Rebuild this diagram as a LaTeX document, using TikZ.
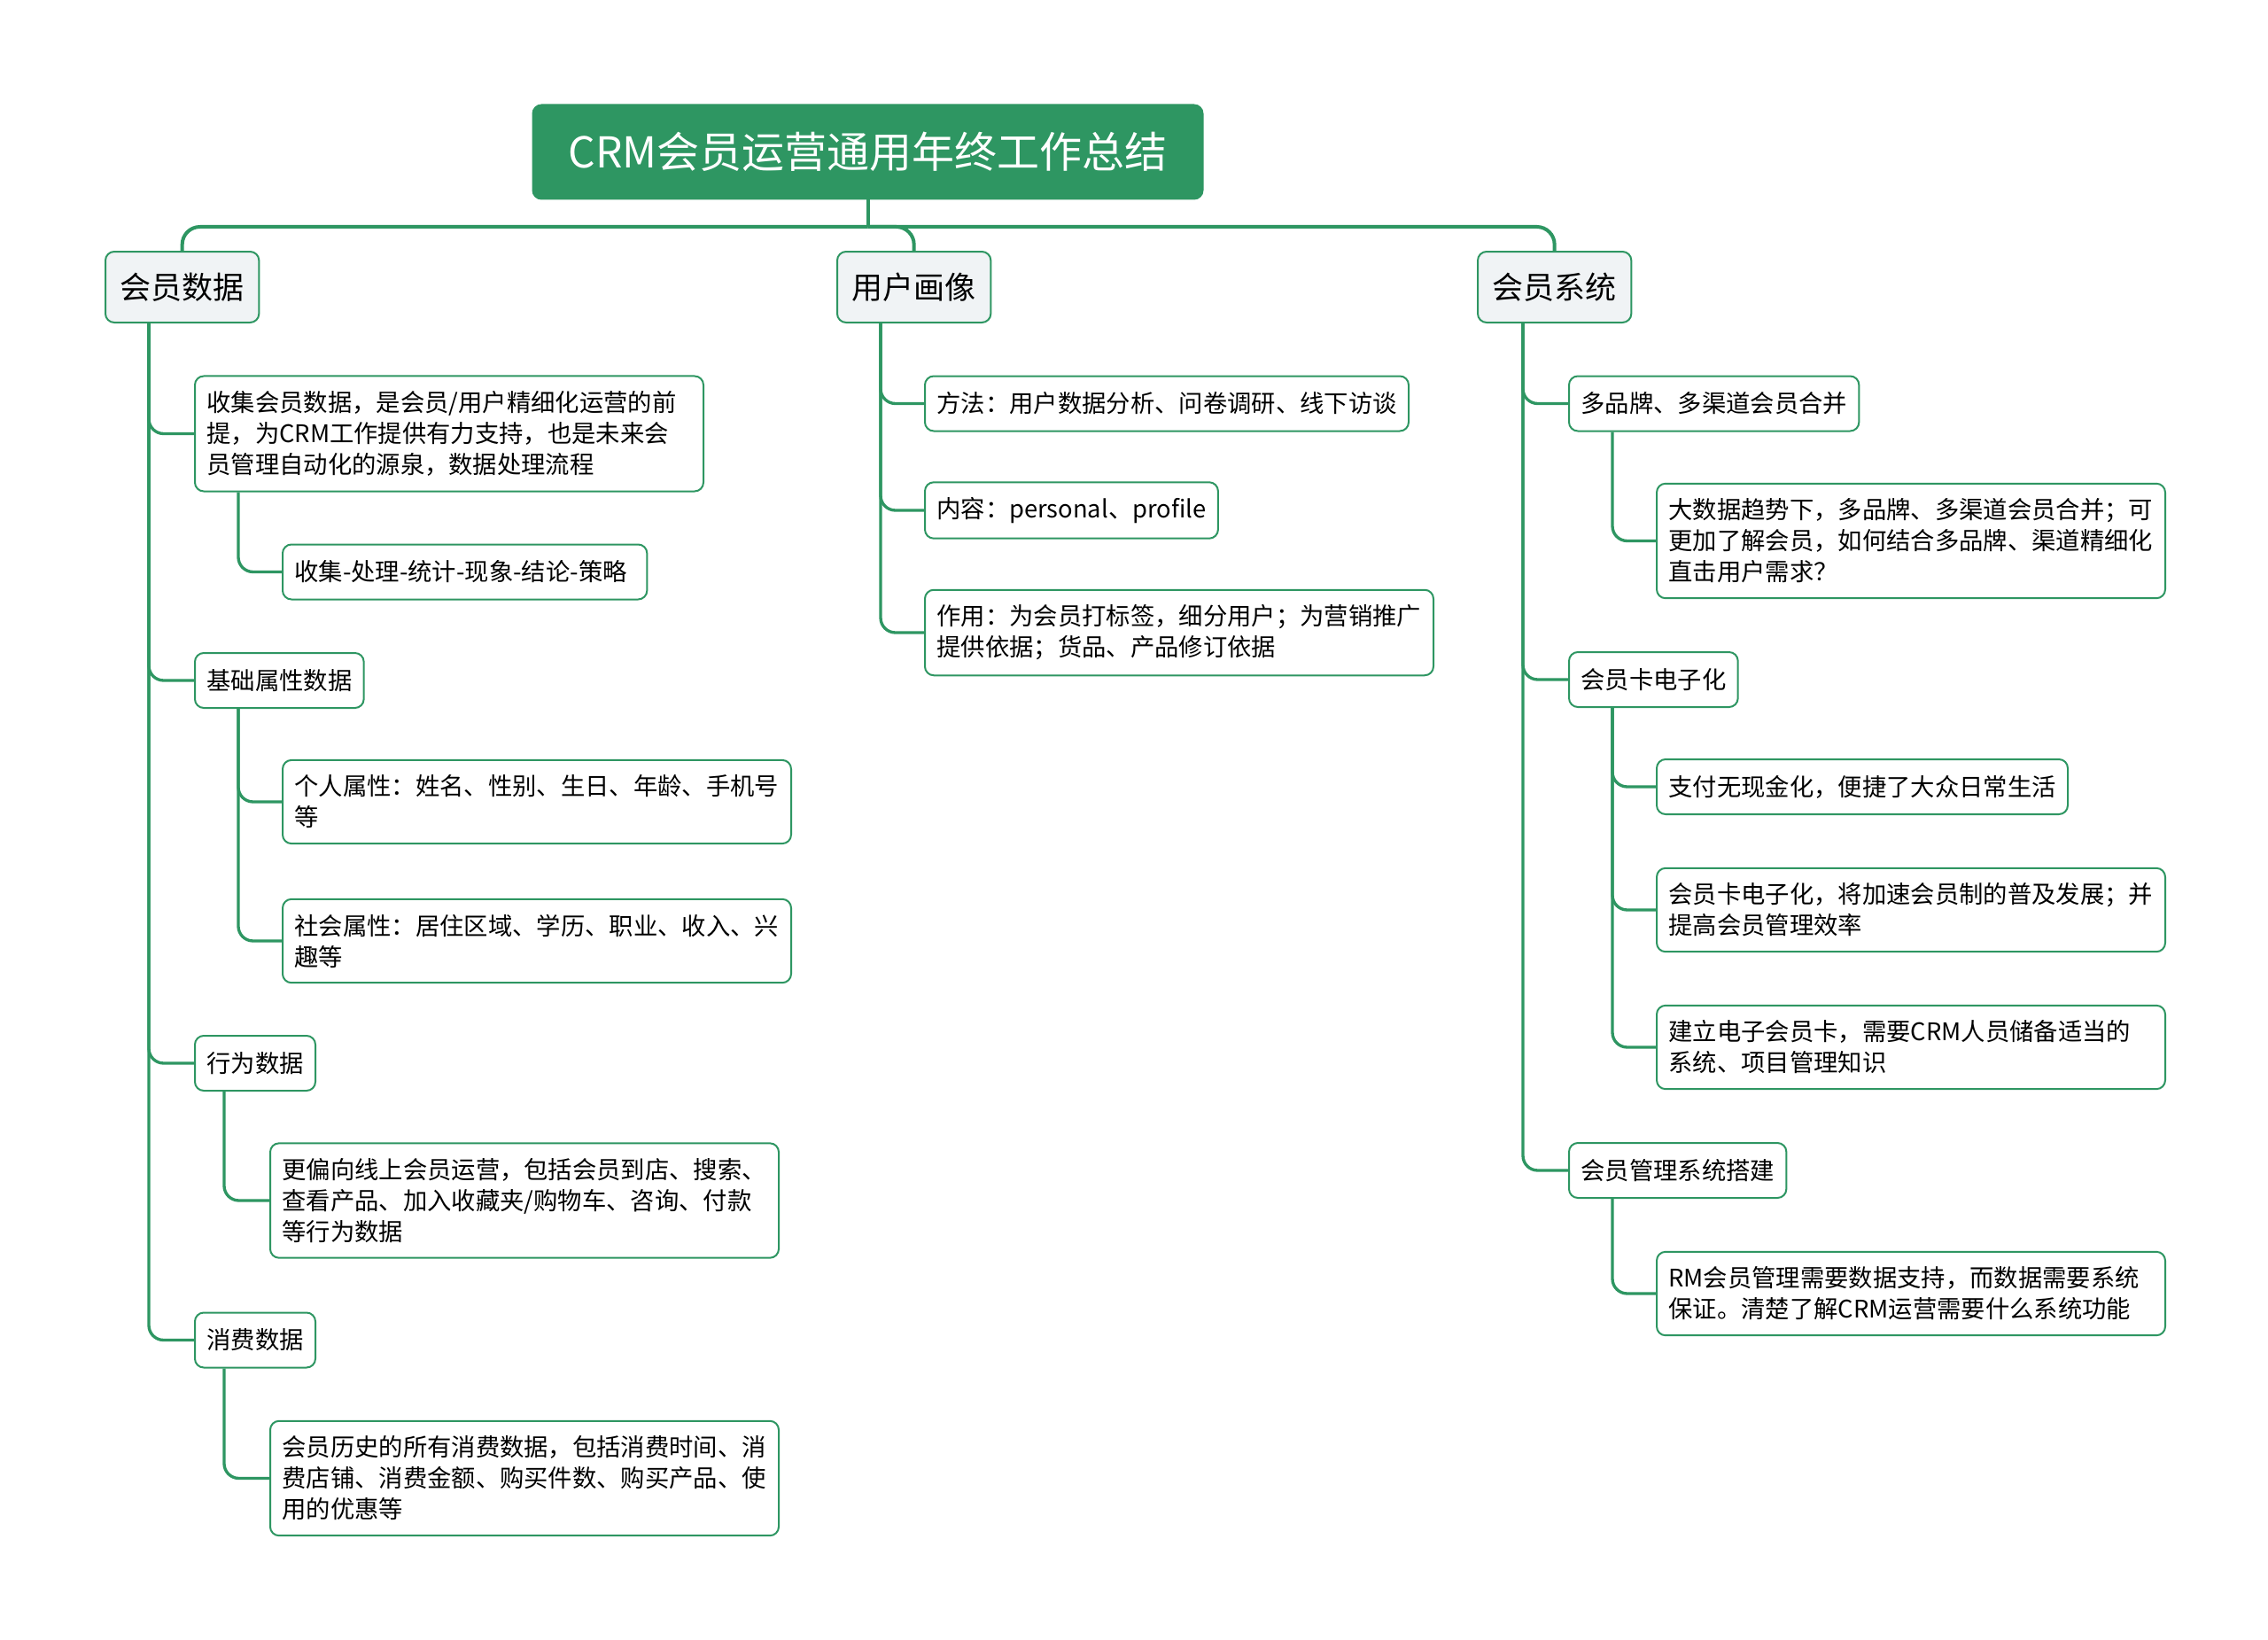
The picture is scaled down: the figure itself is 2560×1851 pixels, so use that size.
\documentclass[tikz,border=0pt]{standalone}
\usepackage{fontspec}
\setmainfont{Noto Sans CJK SC}
\definecolor{mgreen}{RGB}{46,150,98}
\definecolor{lgray}{RGB}{240,243,245}

\begin{document}
\begin{tikzpicture}[x=0.3pt,y=-0.3pt,
  root/.style={fill=mgreen, draw=mgreen, rounded corners=3pt, text=white, minimum width=227pt, minimum height=32pt, font=\fontsize{14.4}{17}\selectfont},
  main/.style={fill=lgray, draw=mgreen, line width=0.6pt, rounded corners=3pt, minimum height=24pt, inner xsep=5pt, anchor=west, font=\fontsize{10.5}{13}\selectfont},
  sub/.style={fill=white, draw=mgreen, line width=0.6pt, rounded corners=3pt, minimum height=18.6pt, inner xsep=4pt, inner ysep=5.1pt, align=left, anchor=west, font=\fontsize{8.2}{10.5}\selectfont},
  wrap/.style={sub, text width=164.2pt},
  link/.style={draw=mgreen, line width=1pt, rounded corners=5pt}]
\useasboundingbox (0,0) rectangle (2560,1851);
\fill[white] (0,0) rectangle (2560,1851);

\node[root] (root) at (979.5,171.5) {CRM会员运营通用年终工作总结};
\coordinate (bar) at (979.5,256);

\node[main] (a) at (118,324) {会员数据};
\node[main] (b) at (944,324) {用户画像};
\node[main] (c) at (1667,324) {会员系统};

\node[wrap] (a1) at (219,489.5) {收集会员数据，是会员/用户精细化运营的前\\提，为CRM工作提供有力支持，也是未来会\\员管理自动化的源泉，数据处理流程};
\node[sub, text width=115.4pt] (a11) at (318,645.5) {收集-处理-统计-现象-结论-策略};
\node[sub] (a2) at (219,768) {基础属性数据};
\node[wrap] (a21) at (318,905) {个人属性：姓名、性别、生日、年龄、手机号\\等};
\node[wrap] (a22) at (318,1062) {社会属性：居住区域、学历、职业、收入、兴\\趣等};
\node[sub] (a3) at (219,1200) {行为数据};
\node[wrap] (a31) at (304,1355) {更偏向线上会员运营，包括会员到店、搜索、\\查看产品、加入收藏夹/购物车、咨询、付款\\等行为数据};
\node[sub] (a4) at (219,1512.5) {消费数据};
\node[wrap] (a41) at (304,1668.5) {会员历史的所有消费数据，包括消费时间、消\\费店铺、消费金额、购买件数、购买产品、使\\用的优惠等};

\node[sub] (b1) at (1043,455.5) {方法：用户数据分析、问卷调研、线下访谈};
\node[sub] (b2) at (1043,576) {内容：personal、profile};
\node[wrap] (b3) at (1043,714) {作用：为会员打标签，细分用户；为营销推广\\提供依据；货品、产品修订依据};

\node[sub] (c1) at (1770,455.5) {多品牌、多渠道会员合并};
\node[wrap] (c11) at (1869,610.5) {大数据趋势下，多品牌、多渠道会员合并；可\\更加了解会员，如何结合多品牌、渠道精细化\\直击用户需求？};
\node[sub] (c2) at (1770,767) {会员卡电子化};
\node[sub] (c21) at (1869,888) {支付无现金化，便捷了大众日常生活};
\node[wrap] (c22) at (1869,1027) {会员卡电子化，将加速会员制的普及发展；并\\提高会员管理效率};
\node[wrap] (c23) at (1869,1182) {建立电子会员卡，需要CRM人员储备适当的\\系统、项目管理知识};
\node[sub] (c3) at (1770,1321) {会员管理系统搭建};
\node[wrap] (c31) at (1869,1460) {RM会员管理需要数据支持，而数据需要系统\\保证。清楚了解CRM运营需要什么系统功能};

\draw[link, line width=1.2pt] (root.south) -- (bar);
\draw[link, line width=1.2pt, rounded corners=6pt] (bar) -| (a.north);
\draw[link, line width=1.2pt, rounded corners=6pt] (bar) -| (b.north);
\draw[link, line width=1.2pt, rounded corners=6pt] (bar) -| (c.north);

\foreach \n in {a1,a2,a3,a4}
  \draw[link] ([xshift=15pt]a.south west) |- (\n.west);
\draw[link] ([xshift=15pt]a1.south west) |- (a11.west);
\draw[link] ([xshift=15pt]a2.south west) |- (a21.west);
\draw[link] ([xshift=15pt]a2.south west) |- (a22.west);
\draw[link] ([xshift=10.2pt]a3.south west) |- (a31.west);
\draw[link] ([xshift=10.2pt]a4.south west) |- (a41.west);

\foreach \n in {b1,b2,b3}
  \draw[link] ([xshift=15pt]b.south west) |- (\n.west);

\foreach \n in {c1,c2,c3}
  \draw[link] ([xshift=15.6pt]c.south west) |- (\n.west);
\draw[link] ([xshift=15pt]c1.south west) |- (c11.west);
\foreach \n in {c21,c22,c23}
  \draw[link] ([xshift=15pt]c2.south west) |- (\n.west);
\draw[link] ([xshift=15pt]c3.south west) |- (c31.west);
\end{tikzpicture}
\end{document}
